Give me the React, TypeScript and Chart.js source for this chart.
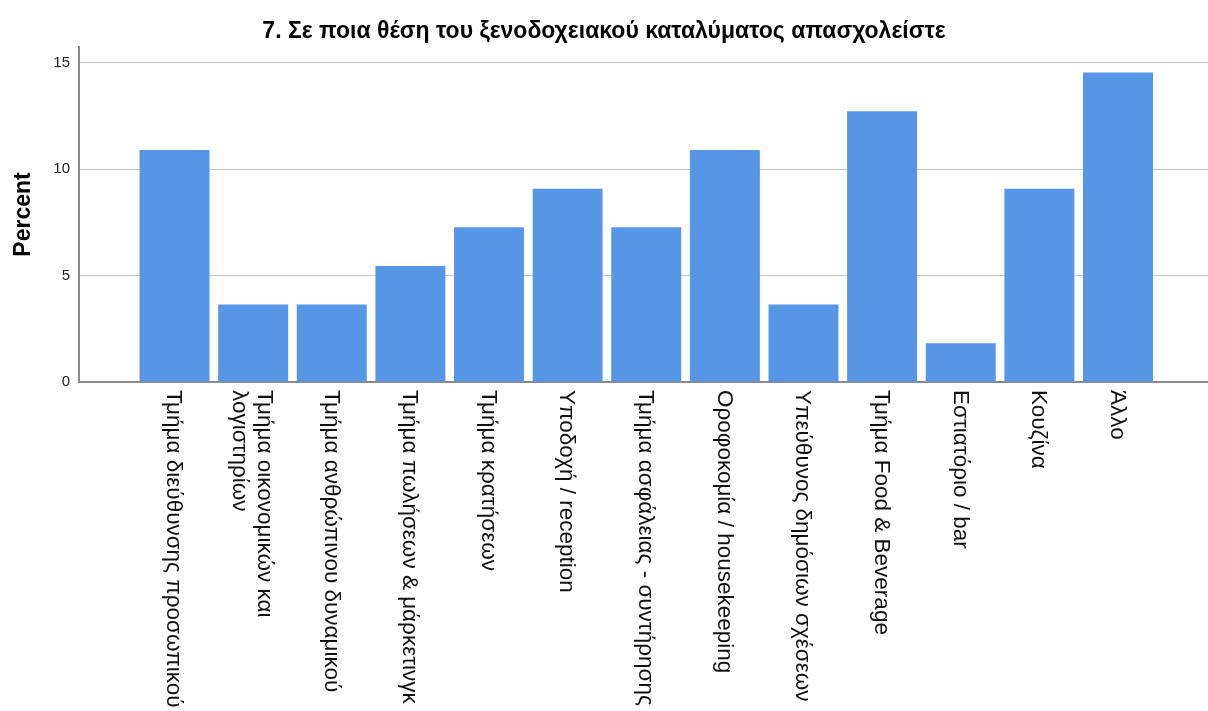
import React, { useEffect, useRef } from "react";
import { Chart, registerables } from "chart.js";

Chart.register(...registerables);

const TITLE = "7. Σε ποια θέση του ξενοδοχειακού καταλύματος απασχολείστε";
const Y_LABEL = "Percent";

const CATEGORIES: string[][] = [
  ["Τμήμα διεύθυνσης προσωπικού"],
  ["Τμήμα οικονομικών και", "λογιστηρίων"],
  ["Τμήμα ανθρώπινου δυναμικού"],
  ["Τμήμα πωλήσεων & μάρκετινγκ"],
  ["Τμήμα κρατήσεων"],
  ["Υποδοχή / reception"],
  ["Τμήμα ασφάλειας - συντήρησης"],
  ["Οροφοκομία / housekeeping"],
  ["Υπεύθυνος δημόσιων σχέσεων"],
  ["Τμήμα Food & Beverage"],
  ["Εστιατόριο / bar"],
  ["Κουζίνα"],
  ["Άλλο"],
];

const PERCENTS = [10.91, 3.64, 3.64, 5.45, 7.27, 9.09, 7.27, 10.91, 3.64, 12.73, 1.82, 9.09, 14.55];

const Y_MIN = 0;
const Y_MAX = 15.75;
const Y_STEP = 5;

const X_MIN = -1.215;
const X_MAX = 13.145;

const W = 1208;
const H = 711;

const FONT = '"Liberation Sans", Arial, sans-serif';

const rotatedLabels = {
  id: "rotatedLabels",
  afterDraw(chart: any) {
    const { ctx, chartArea } = chart;
    const x = chart.scales.x;
    ctx.save();
    ctx.font = `22.5px ${FONT}`;
    ctx.fillStyle = "#111";
    ctx.textAlign = "left";
    ctx.textBaseline = "middle";
    const lh = 25;
    CATEGORIES.forEach((lines, i) => {
      const px = x.getPixelForValue(i);
      ctx.save();
      ctx.translate(px, chartArea.bottom + 8);
      ctx.rotate(Math.PI / 2);
      const n = lines.length;
      lines.forEach((t, j) => {
        const off = (j - (n - 1) / 2) * lh;
        ctx.fillText(t, 0, off + 1);
      });
      ctx.restore();
    });
    ctx.restore();
  },
};

export default function App() {
  const ref = useRef<HTMLCanvasElement | null>(null);

  useEffect(() => {
    if (!ref.current) return;
    const chart = new Chart(ref.current, {
      type: "bar",
      data: {
        datasets: [
          {
            label: Y_LABEL,
            data: PERCENTS.map((v, i) => ({ x: i, y: v })),
            backgroundColor: "#5696E4",
            borderWidth: 0,
            categoryPercentage: 1,
            barPercentage: 0.89,
          },
        ],
      },
      options: {
        responsive: false,
        animation: false,
        devicePixelRatio: 1,
        layout: { padding: 0 },
        plugins: {
          legend: { display: false },
          tooltip: { enabled: false },
          title: {
            display: true,
            text: TITLE,
            color: "#000",
            font: { family: FONT, size: 23, weight: "bold" },
            padding: { top: 18, bottom: 1.4 },
          },
        },
        scales: {
          x: {
            type: "linear",
            min: X_MIN,
            max: X_MAX,
            offset: false,
            ticks: { display: false },
            grid: { display: false, drawTicks: false, offset: false },
            border: { display: true, color: "#8a8a8a", width: 2 },
            afterFit: (s: any) => {
              s.height = H - 382;
            },
          },
          y: {
            min: Y_MIN,
            max: Y_MAX,
            ticks: {
              stepSize: Y_STEP,
              includeBounds: false,
              color: "#222",
              font: { family: FONT, size: 15 },
              padding: 9,
            },
            grid: { color: "#c4c4c4", lineWidth: 1, drawTicks: false },
            border: { display: true, color: "#8a8a8a", width: 2 },
            title: {
              display: true,
              text: Y_LABEL,
              color: "#000",
              font: { family: FONT, size: 23, weight: "bold" },
              padding: { top: 10, bottom: 0 },
            },
            afterFit: (s: any) => {
              s.width = 79;
            },
          },
        },
      },
      plugins: [rotatedLabels],
    });
    return () => chart.destroy();
  }, []);

  return (
    <div style={{ position: "absolute", left: 0, top: 0, width: W, height: H, background: "#fff" }}>
      <canvas ref={ref} width={W} height={H} />
    </div>
  );
}
